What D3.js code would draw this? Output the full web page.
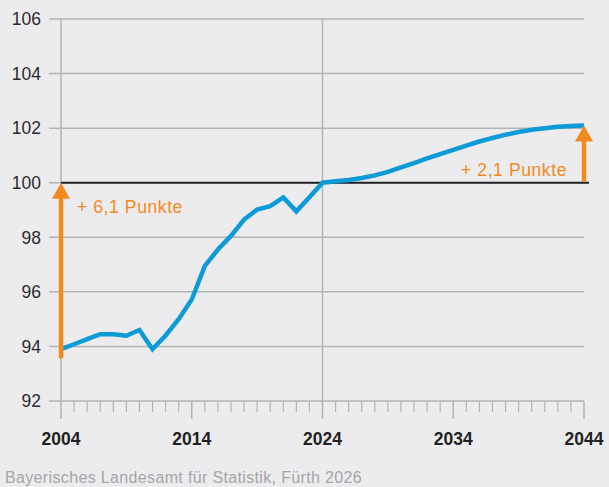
<!DOCTYPE html>
<html><head><meta charset="utf-8">
<script src="https://cdn.jsdelivr.net/npm/d3@7"></script>
<style>html,body{margin:0;padding:0;background:#ECECEE;}svg{display:block;font-family:"Liberation Sans",Arial,sans-serif;}</style>
</head><body>
<svg id="c" width="609" height="487"></svg>
<script>
const years = d3.range(2004, 2045);
const values = [93.9, 94.08, 94.27, 94.45, 94.45, 94.39, 94.6, 93.9, 94.4, 95.0, 95.72, 96.95, 97.55, 98.05, 98.65, 99.02, 99.14, 99.46, 98.95, 99.47, 100.0,
  100.05, 100.1, 100.17, 100.27, 100.4, 100.56, 100.72, 100.89, 101.05, 101.2, 101.36, 101.51, 101.64, 101.76, 101.86, 101.94, 102.0, 102.05, 102.08, 102.1];
const yTicks = [92, 94, 96, 98, 100, 102, 104, 106];
const xLabels = [2004, 2014, 2024, 2034, 2044];
const annotations = [{year: 2004, from: 93.9, to: 100, text: "+ 6,1 Punkte"}, {year: 2044, from: 100, to: 102.1, text: "+ 2,1 Punkte"}];
const source = "Bayerisches Landesamt für Statistik, Fürth 2026";

const svg = d3.select("#c");
const x = d3.scaleLinear().domain([2004, 2044]).range([61, 584]);
const y = d3.scaleLinear().domain([92, 106]).range([401, 19]);
const grid = "#B3B3B5";

// horizontal gridlines
svg.append("g").selectAll("line").data(yTicks).join("line")
  .attr("x1", 49).attr("x2", 584).attr("y1", d => y(d)).attr("y2", d => y(d))
  .attr("stroke", grid).attr("stroke-width", 1.5);
// y labels
svg.append("g").selectAll("text").data(yTicks).join("text")
  .attr("x", 41).attr("y", d => y(d)).attr("dy", "0.36em").attr("text-anchor", "end")
  .attr("font-size", 17.5).attr("fill", "#2b2b2b").text(d => d);
// vertical lines
svg.append("g").selectAll("line").data([2004, 2024]).join("line")
  .attr("x1", d => x(d)).attr("x2", d => x(d)).attr("y1", y(106)).attr("y2", y(92))
  .attr("stroke", grid).attr("stroke-width", 1.5);
// ticks
svg.append("g").selectAll("line").data(years).join("line")
  .attr("x1", d => x(d)).attr("x2", d => x(d)).attr("y1", y(92))
  .attr("y2", d => (d - 2004) % 10 === 0 ? 419 : 412)
  .attr("stroke", grid).attr("stroke-width", d => (d - 2004) % 10 === 0 ? 1.5 : 1.2);
// x labels
svg.append("g").selectAll("text").data(xLabels).join("text")
  .attr("x", d => x(d)).attr("y", 445).attr("text-anchor", "middle")
  .attr("font-size", 17.5).attr("font-weight", "bold").attr("fill", "#222").text(d => d);
// 100 baseline
svg.append("line").attr("x1", x(2004)).attr("x2", x(2044) + 5).attr("y1", y(100)).attr("y2", y(100))
  .attr("stroke", "#222").attr("stroke-width", 2);
// data line
svg.append("path").datum(years.map((yr, i) => [yr, values[i]]))
  .attr("fill", "none").attr("stroke", "#0C9BD6").attr("stroke-width", 4.5)
  .attr("d", d3.line().x(d => x(d[0])).y(d => y(d[1])));
// arrows
const orange = "#F38A1F";
annotations.forEach((a, i) => {
  const cx = x(a.year);
  const bottom = i === 0 ? y(a.from) + 9 : y(a.from) - 1;
  const tip = y(a.to);
  svg.append("line").attr("x1", cx).attr("x2", cx).attr("y1", bottom).attr("y2", tip + 12)
    .attr("stroke", orange).attr("stroke-width", 4.5);
  svg.append("path").attr("fill", orange)
    .attr("d", `M${cx},${tip}L${cx + 9},${tip + 16}L${cx - 9},${tip + 16}Z`);
});
svg.append("text").attr("x", 77).attr("y", 213).attr("font-size", 17.5).attr("letter-spacing", 0.6).attr("fill", orange).text(annotations[0].text);
svg.append("text").attr("x", 567).attr("y", 176).attr("text-anchor", "end").attr("font-size", 17.5).attr("letter-spacing", 0.6).attr("fill", orange).text(annotations[1].text);
// source
svg.append("text").attr("x", 5).attr("y", 483).attr("font-size", 16).attr("letter-spacing", 0.35).attr("fill", "#A5A5A7").text(source);
</script>
</body></html>
